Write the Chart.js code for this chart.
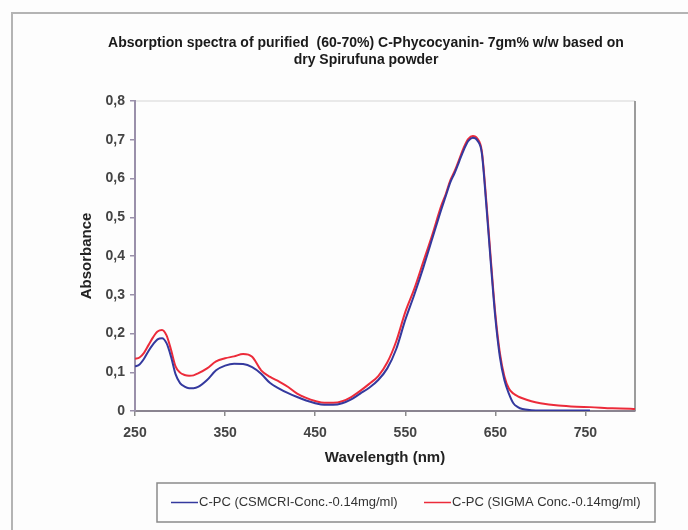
<!DOCTYPE html>
<html>
<head>
<meta charset="utf-8">
<script src="https://cdn.jsdelivr.net/npm/chart.js@4/dist/chart.umd.min.js"></script>
<style>
  html, body { margin: 0; padding: 0; background: #ffffff; }
  #wrap { width: 688px; height: 530px; position: relative; }
</style>
</head>
<body>
<div id="wrap"><canvas id="c"></canvas></div>
<script>
const chartTitle = ["Absorption spectra of purified  (60-70%) C-Phycocyanin- 7gm% w/w based on", "dry Spirufuna powder"];
const seriesNames = ["C-PC (CSMCRI-Conc.-0.14mg/ml)", "C-PC (SIGMA Conc.-0.14mg/ml)"];
const xTickValues = [250, 350, 450, 550, 650, 750];
const yTickValues = [0, 0.1, 0.2, 0.3, 0.4, 0.5, 0.6, 0.7, 0.8];

const wavelength = [250,255,260,265,270,275,280,285,290,295,300,305,310,315,320,330,340,350,360,370,380,390,400,410,420,430,440,450,460,470,480,490,500,510,520,530,540,550,560,570,580,590,595,600,605,610,615,620,625,630,635,640,645,650,655,660,665,670,675,680,690,700,720,740,755,780,800,805];

const csmcri = [0.115,0.12,0.135,0.155,0.172,0.185,0.188,0.175,0.14,0.095,0.072,0.063,0.059,0.059,0.062,0.08,0.105,0.117,0.122,0.121,0.113,0.096,0.072,0.058,0.046,0.036,0.027,0.02,0.016,0.016,0.02,0.03,0.045,0.06,0.08,0.11,0.16,0.235,0.30,0.37,0.445,0.52,0.555,0.59,0.615,0.645,0.674,0.697,0.705,0.698,0.665,0.53,0.38,0.24,0.14,0.08,0.045,0.02,0.01,0.005,0.002,0.001,0.001,0.001,0.001,null,null,null];

const sigma = [0.135,0.138,0.15,0.17,0.19,0.205,0.209,0.195,0.158,0.115,0.099,0.093,0.091,0.092,0.097,0.11,0.128,0.136,0.141,0.147,0.14,0.105,0.088,0.076,0.062,0.045,0.034,0.026,0.021,0.021,0.025,0.036,0.052,0.07,0.09,0.125,0.18,0.255,0.315,0.385,0.455,0.53,0.56,0.595,0.62,0.65,0.68,0.702,0.71,0.703,0.67,0.54,0.39,0.25,0.15,0.09,0.058,0.045,0.038,0.033,0.025,0.02,0.014,0.011,0.01,0.007,0.006,0.005];

const colors = ["#34399e", "#ec2b3a"];

function toPoints(vals) {
  const pts = [];
  wavelength.forEach((w, i) => { if (vals[i] !== null) pts.push({x: w, y: vals[i]}); });
  return pts;
}

const decorPlugin = {
  id: 'decor',
  beforeDraw(chart) {
    const ctx = chart.ctx;
    ctx.save();
    ctx.fillStyle = '#fdfdfd';
    ctx.fillRect(0, 0, chart.width, chart.height);
    ctx.strokeStyle = '#b4b4b4';
    ctx.lineWidth = 2;
    ctx.strokeRect(12, 13, chart.width + 20, chart.height + 20);
    const a = chart.chartArea;
    ctx.strokeStyle = '#e2e2e2';
    ctx.lineWidth = 1.5;
    ctx.beginPath(); ctx.moveTo(a.left, a.top); ctx.lineTo(a.right, a.top); ctx.stroke();
    ctx.strokeStyle = '#9c9c9c';
    ctx.lineWidth = 2;
    ctx.beginPath(); ctx.moveTo(a.right, a.top); ctx.lineTo(a.right, a.bottom); ctx.stroke();
    ctx.restore();
  },
  afterDraw(chart) {
    const ctx = chart.ctx;
    ctx.save();
    ctx.fillStyle = '#1a1a1a';
    ctx.font = 'bold 14px "Liberation Sans", Arial, sans-serif';
    ctx.textAlign = 'center';
    ctx.textBaseline = 'middle';
    ctx.fillText(chartTitle[0], 366, 43);
    ctx.fillText(chartTitle[1], 366, 60);
    const lx = 157, ly = 483, lw = 498, lh = 39;
    ctx.strokeStyle = '#8a8a8a';
    ctx.lineWidth = 1.5;
    ctx.strokeRect(lx, ly, lw, lh);
    ctx.font = '13px "Liberation Sans", Arial, sans-serif';
    ctx.textAlign = 'left';
    const starts = [171, 424];
    chart.data.datasets.forEach((ds, i) => {
      const sx = starts[i], sy = ly + lh / 2;
      ctx.strokeStyle = ds.borderColor;
      ctx.lineWidth = 1.5;
      ctx.beginPath(); ctx.moveTo(sx, sy); ctx.lineTo(sx + 27, sy); ctx.stroke();
      ctx.fillStyle = '#333';
      ctx.fillText(ds.label, sx + 28, sy);
    });
    ctx.restore();
  }
};

new Chart(document.getElementById('c'), {
  type: 'line',
  data: {
    datasets: [
      { label: seriesNames[0], data: toPoints(csmcri), borderColor: colors[0], borderWidth: 2, pointRadius: 0, cubicInterpolationMode: 'monotone', fill: false },
      { label: seriesNames[1], data: toPoints(sigma), borderColor: colors[1], borderWidth: 2, pointRadius: 0, cubicInterpolationMode: 'monotone', fill: false }
    ]
  },
  options: {
    responsive: true,
    maintainAspectRatio: false,
    animation: false,
    layout: { padding: { left: 0, right: 53, top: 101, bottom: 59 } },
    plugins: {
      legend: { display: false },
      title: { display: false },
      tooltip: { enabled: false }
    },
    scales: {
      x: {
        type: 'linear',
        min: 250,
        max: 805,
        afterFit(s) { s.height = 60; },
        afterBuildTicks(s) { s.ticks = xTickValues.map(v => ({ value: v })); },
        grid: { display: true, drawOnChartArea: false, drawTicks: true, tickLength: 5, color: '#8a8a8a', lineWidth: 1.5 },
        border: { display: true, color: '#8a8490', width: 2 },
        ticks: {
          padding: 9,
          maxRotation: 0,
          autoSkip: false,
          color: '#444',
          font: { family: '"Liberation Sans", Arial, sans-serif', size: 14, weight: 'bold' },
          callback: v => String(v)
        },
        title: {
          display: true,
          text: 'Wavelength (nm)',
          color: '#222',
          font: { family: '"Liberation Sans", Arial, sans-serif', size: 15, weight: 'bold' },
          padding: { top: 0, bottom: 4 }
        }
      },
      y: {
        type: 'linear',
        min: 0,
        max: 0.8,
        afterFit(s) { s.width = 135; },
        afterBuildTicks(s) { s.ticks = yTickValues.map(v => ({ value: v })); },
        grid: { display: true, drawOnChartArea: false, drawTicks: true, tickLength: 5, color: '#9a90aa', lineWidth: 1.5 },
        border: { display: true, color: '#9a90aa', width: 2 },
        ticks: {
          padding: 5,
          color: '#444',
          font: { family: '"Liberation Sans", Arial, sans-serif', size: 14, weight: 'bold' },
          callback: v => (v === 0 ? '0' : v.toFixed(1).replace('.', ','))
        },
        title: {
          display: true,
          text: 'Absorbance',
          color: '#222',
          font: { family: '"Liberation Sans", Arial, sans-serif', size: 15, weight: 'bold' },
          padding: { top: 78, bottom: 0 }
        }
      }
    }
  },
  plugins: [decorPlugin]
});
</script>
</body>
</html>
